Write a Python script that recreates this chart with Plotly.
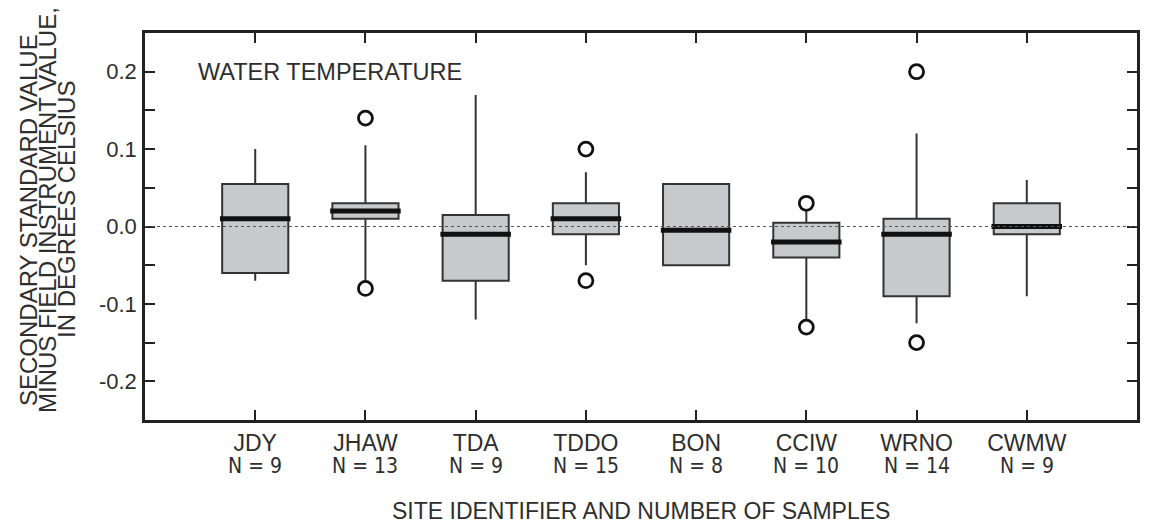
import plotly.graph_objects as go

# ---- data ----
sites = ["JDY", "JHAW", "TDA", "TDDO", "BON", "CCIW", "WRNO", "CWMW"]
n_samples = [9, 13, 9, 15, 8, 10, 14, 9]
q1 = [-0.06, 0.01, -0.07, -0.01, -0.05, -0.04, -0.09, -0.01]
median = [0.01, 0.02, -0.01, 0.01, -0.005, -0.02, -0.01, 0.0]
q3 = [0.055, 0.03, 0.015, 0.03, 0.055, 0.005, 0.01, 0.03]
lower_whisker = [-0.07, -0.07, -0.12, -0.05, -0.05, -0.12, -0.125, -0.09]
upper_whisker = [0.10, 0.105, 0.17, 0.07, 0.055, 0.02, 0.12, 0.06]
outlier_site = ["JHAW", "JHAW", "TDDO", "TDDO", "CCIW", "CCIW", "WRNO", "WRNO"]
outlier_value = [0.14, -0.08, 0.10, -0.07, 0.03, -0.13, 0.20, -0.15]
y_tick_values = [0.2, 0.15, 0.1, 0.05, 0.0, -0.05, -0.1, -0.15, -0.2]
y_tick_labels = ["0.2", "", "0.1", "", "0.0", "", "-0.1", "", "-0.2"]

pos = list(range(1, len(sites) + 1))
pos_of = {s: p for s, p in zip(sites, pos)}

FONT = "Liberation Sans, Arial, Helvetica, sans-serif"
NARROW = "Liberation Sans Narrow, Arial Narrow, DejaVu Sans Condensed, sans-serif"
TXT = "#2e2e2e"
INK = "#222222"

fig = go.Figure()

fig.add_trace(go.Box(
    x=pos, q1=q1, median=median, q3=q3,
    lowerfence=lower_whisker, upperfence=upper_whisker,
    width=0.6, whiskerwidth=0, boxpoints=False,
    fillcolor="#c8c9cb", line=dict(color="#333333", width=2),
    showlegend=False, hoverinfo="skip",
))

# thick median bars
mx, my = [], []
half = 0.32
for p, m in zip(pos, median):
    mx += [p - half, p + half, None]
    my += [m, m, None]
fig.add_trace(go.Scatter(x=mx, y=my, mode="lines",
                         line=dict(color="#111111", width=5),
                         showlegend=False, hoverinfo="skip"))

# outliers
fig.add_trace(go.Scatter(
    x=[pos_of[s] for s in outlier_site], y=outlier_value, mode="markers",
    marker=dict(symbol="circle-open", size=14, color="#111111",
                line=dict(width=2.8, color="#111111")),
    showlegend=False, hoverinfo="skip"))

# dotted zero reference
fig.add_shape(type="line", xref="paper", x0=0, x1=1, yref="y", y0=0, y1=0,
              line=dict(color="#555555", width=1, dash="dot"), layer="above")

fig.update_layout(
    width=1164, height=524,
    margin=dict(l=145, r=27, t=33, b=104),
    paper_bgcolor="white", plot_bgcolor="white",
    font=dict(family=FONT, size=22, color=TXT),
)

fig.update_xaxes(
    range=[0, len(sites) + 1], tickvals=pos, ticktext=sites,
    showgrid=False, zeroline=False,
    showline=True, linewidth=2.5, linecolor=INK, mirror="allticks",
    ticks="inside", ticklen=10, tickwidth=2, tickcolor=INK,
    tickfont=dict(family=FONT, size=23, color=TXT),
    ticklabelstandoff=1,
)
fig.update_yaxes(
    range=[-0.25, 0.25], tickvals=y_tick_values, ticktext=y_tick_labels,
    showgrid=False, zeroline=False,
    showline=True, linewidth=2.5, linecolor=INK, mirror="allticks",
    ticks="inside", ticklen=10, tickwidth=2, tickcolor=INK,
    tickfont=dict(family=FONT, size=22, color=TXT),
    ticklabelstandoff=1,
)

plot_h = 524 - 33 - 104
plot_w = 1164 - 145 - 27

def px_x(px):
    return (px - 145) / plot_w

def px_y(py):
    return (524 - 104 - py) / plot_h

# N labels under each site
for p, n in zip(pos, n_samples):
    fig.add_annotation(x=p, xref="x", y=px_y(466), yref="paper",
                       text=f"N = {n}", showarrow=False,
                       xanchor="center", yanchor="middle",
                       font=dict(family=NARROW, size=21, color=TXT))

# x-axis title
fig.add_annotation(x=0.5, xref="paper", y=px_y(511), yref="paper",
                   text="SITE IDENTIFIER AND NUMBER OF SAMPLES", showarrow=False,
                   xanchor="center", yanchor="middle",
                   font=dict(family=FONT, size=23, color=TXT))

# y-axis title (three tightly spaced lines)
y_title_lines = ["SECONDARY STANDARD VALUE", "MINUS FIELD INSTRUMENT VALUE,",
                 "IN DEGREES CELSIUS"]
for line, cx, cy in zip(y_title_lines, [28, 47, 66], [220, 210, 210]):
    fig.add_annotation(x=px_x(cx), xref="paper", y=px_y(cy), yref="paper",
                       text=line, textangle=-90, showarrow=False,
                       xanchor="center", yanchor="middle",
                       font=dict(family=FONT, size=24, color=TXT))

# panel label
fig.add_annotation(x=px_x(196), xref="paper", y=0.2, yref="y",
                   text="WATER TEMPERATURE", showarrow=False,
                   xanchor="left", yanchor="middle",
                   font=dict(family=FONT, size=23.5, color=TXT))

fig.write_html("out.html")
